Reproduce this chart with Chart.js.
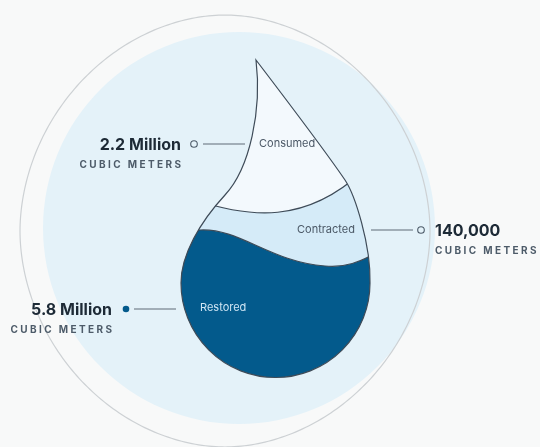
<!DOCTYPE html>
<html><head><meta charset="utf-8">
<script src="https://cdn.jsdelivr.net/npm/chart.js@4/dist/chart.umd.min.js"></script>
<style>
html,body{margin:0;padding:0;background:#f8f9f9;}
#wrap{width:540px;height:447px;position:relative;}
</style>
</head><body><div id="wrap"><canvas id="c"></canvas></div>
<script>
// ---- data ----
const categories = ['Consumed', 'Contracted', 'Restored'];
const volumes = [2200000, 140000, 5800000];
const valueLabels = ['2.2 Million', '140,000', '5.8 Million'];
const unitLabel = 'CUBIC METERS';

// ---- styling / layout ----
const layerColors = ['#f3f9fd', '#d5ebf8', '#035a8c'];
const innerLabelColors = ['#4b5866', '#4b5866', '#cfe5f4'];
const markerFilled = [false, false, true];
const calloutSide = ['left', 'right', 'left'];
const calloutY = [144, 230, 309];
const calloutLine = [[203, 245], [371, 413], [134, 176]];
const calloutDotX = [194, 421, 126];
const calloutTextX = [181, 435, 112];
const innerLabelX = [259, 297, 200];
const innerLabelY = [144, 230, 308];

const dropPlugin = {
  id: 'waterDrop',
  beforeDatasetsDraw(chart) {
    const ctx = chart.ctx;
    const sx = chart.scales.x, sy = chart.scales.y;
    const X = v => sx.getPixelForValue(v);
    const Y = v => sy.getPixelForValue(v);
    const k = X(1) - X(0);
    ctx.save();
    // background disc
    ctx.beginPath();
    ctx.arc(X(239), Y(228), 196 * k, 0, Math.PI * 2);
    ctx.fillStyle = '#e4f2f9';
    ctx.fill();
    // outer ring outline (slightly squarish ellipse)
    ctx.beginPath();
    const cx = 225, cy = 231, a = 205, b = 216, p = 1.92;
    for (let j = 0; j <= 360; j++) {
      const t = j / 360 * Math.PI * 2;
      const c = Math.cos(t), s = Math.sin(t);
      const xx = cx + a * Math.sign(c) * Math.pow(Math.abs(c), 2 / p);
      const yy = cy + b * Math.sign(s) * Math.pow(Math.abs(s), 2 / p);
      if (j === 0) ctx.moveTo(X(xx), Y(yy)); else ctx.lineTo(X(xx), Y(yy));
    }
    ctx.closePath();
    ctx.strokeStyle = '#cdd1d4';
    ctx.lineWidth = 1.2;
    ctx.stroke();

    // drop path
    const dropPath = () => {
      ctx.beginPath();
      ctx.moveTo(X(256), Y(60));
      ctx.bezierCurveTo(X(285), Y(98), X(330), Y(158), X(345), Y(180));
      ctx.bezierCurveTo(X(355), Y(195), X(371), Y(245), X(370), Y(283));
      ctx.arc(X(275.5), Y(283), 94.5 * k, 0, Math.PI, false);
      ctx.bezierCurveTo(X(181), Y(255), X(200), Y(222), X(225), Y(195));
      ctx.bezierCurveTo(X(250), Y(168), X(262), Y(110), X(256), Y(60));
      ctx.closePath();
    };
    const boundary1 = () => {
      ctx.moveTo(X(195), Y(200));
      ctx.bezierCurveTo(X(250), Y(218), X(305), Y(224), X(362), Y(172));
    };
    const boundary2 = () => {
      ctx.moveTo(X(170), Y(231));
      ctx.lineTo(X(200), Y(230));
      ctx.bezierCurveTo(X(240), Y(228), X(270), Y(262), X(325), Y(266));
      ctx.bezierCurveTo(X(345), Y(268), X(360), Y(262), X(378), Y(252));
    };
    ctx.save();
    dropPath();
    ctx.clip();
    ctx.fillStyle = layerColors[0];
    ctx.fillRect(X(150), Y(40), 260 * k, 360 * k);
    ctx.beginPath();
    boundary1();
    ctx.lineTo(X(390), Y(400)); ctx.lineTo(X(160), Y(400)); ctx.closePath();
    ctx.fillStyle = layerColors[1]; ctx.fill();
    ctx.beginPath();
    boundary2();
    ctx.lineTo(X(390), Y(400)); ctx.lineTo(X(160), Y(400)); ctx.closePath();
    ctx.fillStyle = layerColors[2]; ctx.fill();
    ctx.strokeStyle = '#3e4b58';
    ctx.lineWidth = 1.2;
    ctx.beginPath(); boundary1(); ctx.stroke();
    ctx.beginPath(); boundary2(); ctx.stroke();
    ctx.restore();
    dropPath();
    ctx.strokeStyle = '#3e4b58';
    ctx.lineWidth = 1.2;
    ctx.stroke();

    // labels & callouts
    ctx.textBaseline = 'middle';
    categories.forEach((cat, i) => {
      ctx.font = '400 11px Inter, "Noto Sans", sans-serif';
      ctx.letterSpacing = '0px';
      ctx.textAlign = 'left';
      ctx.fillStyle = innerLabelColors[i];
      ctx.fillText(cat, X(innerLabelX[i]), Y(innerLabelY[i]));
      // leader line
      ctx.beginPath();
      ctx.moveTo(X(calloutLine[i][0]), Y(calloutY[i]));
      ctx.lineTo(X(calloutLine[i][1]), Y(calloutY[i]));
      ctx.strokeStyle = '#5e6b77';
      ctx.lineWidth = 1;
      ctx.stroke();
      // marker
      ctx.beginPath();
      ctx.arc(X(calloutDotX[i]), Y(calloutY[i]), 3.3 * k, 0, Math.PI * 2);
      if (markerFilled[i]) { ctx.fillStyle = layerColors[2]; ctx.fill(); }
      else { ctx.strokeStyle = '#4d5b69'; ctx.lineWidth = 1.1; ctx.stroke(); }
      // value text
      const right = calloutSide[i] === 'left';
      ctx.textAlign = right ? 'right' : 'left';
      ctx.fillStyle = '#1d2a36';
      ctx.font = '700 16px Inter, "Noto Sans", sans-serif';
      ctx.fillText(valueLabels[i], X(calloutTextX[i]), Y(calloutY[i] + 1));
      ctx.fillStyle = '#4d5b69';
      ctx.font = '700 10px Inter, "Noto Sans", sans-serif';
      ctx.letterSpacing = '2.4px';
      const ux = right ? calloutTextX[i] + 2.4 : calloutTextX[i];
      ctx.fillText(unitLabel, X(ux), Y(calloutY[i] + 21));
      ctx.letterSpacing = '0px';
    });
    ctx.restore();
  }
};

new Chart(document.getElementById('c'), {
  type: 'scatter',
  data: { datasets: [{ label: 'Water volume (m³)', data: [], pointRadius: 0 }] },
  options: {
    responsive: true,
    maintainAspectRatio: false,
    animation: false,
    layout: { padding: 0 },
    plugins: { legend: { display: false }, tooltip: { enabled: false } },
    scales: {
      x: { type: 'linear', min: 0, max: 540, display: false },
      y: { type: 'linear', min: 0, max: 447, reverse: true, display: false }
    }
  },
  plugins: [dropPlugin]
});
</script>
</body></html>
